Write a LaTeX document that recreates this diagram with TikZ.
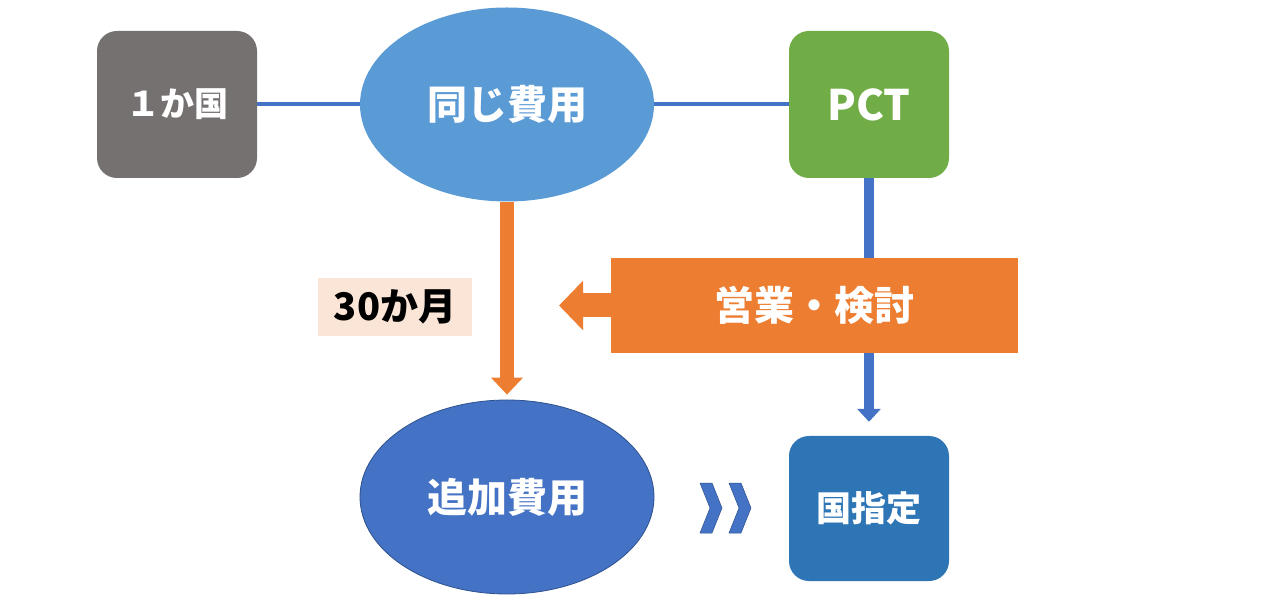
\documentclass[tikz,border=0pt]{standalone}
\usepackage{fontspec}
\setmainfont{Noto Sans CJK JP}
\usetikzlibrary{shapes.geometric,arrows.meta}
\definecolor{cgray}{HTML}{767171}
\definecolor{clight}{HTML}{5B9BD5}
\definecolor{cgreen}{HTML}{70AD47}
\definecolor{corange}{HTML}{ED7D31}
\definecolor{cblue}{HTML}{4472C4}
\definecolor{cdblue}{HTML}{2E75B6}
\definecolor{cpeach}{HTML}{FBE5D6}
\definecolor{cedge}{HTML}{2F528F}
\tikzset{
  txt/.style={font=\fontsize{40}{48}\selectfont\bfseries, text=white},
  rbox/.style={txt, rounded corners=20pt, minimum width=160pt, minimum height=147pt, inner sep=0pt},
  oval/.style={txt, ellipse, minimum width=294pt, minimum height=194pt, inner sep=0pt},
  link/.style={draw=cblue, line width=4pt},
}
\begin{document}
\begin{tikzpicture}[x=1pt,y=-1pt]
\useasboundingbox[fill=white] (0,0) rectangle (1264,601);
% nodes
\node[rbox, fill=cgray, font=\fontsize{34}{40}\selectfont\bfseries] (one) at (177,104.5) {１か国};
\node[oval, fill=clight] (same) at (507,104.5) {同じ費用};
\node[rbox, fill=cgreen, font=\fontsize{42}{48}\selectfont\bfseries] (pct) at (869,104.5) {PCT};
\node[rbox, fill=cdblue, minimum height=145pt, font=\fontsize{35}{42}\selectfont\bfseries] (koku) at (869,508.5) {国指定};
\node[oval, fill=cblue, draw=cedge, line width=0.8pt] (add) at (507,497) {追加費用};
\node[fill=cpeach, minimum width=154pt, minimum height=58pt, inner sep=0pt, font=\fontsize{38}{44}\selectfont\bfseries, text=black] (month) at (395,307) {30か月};
% connectors
\draw[link] (one.east) -- (same.west);
\draw[link] (same.east) -- (pct.west);
\draw[cblue, line width=10pt, -{Triangle[length=13pt,width=23pt]}, shorten >=14pt] (pct.south) -- (koku.north);
\draw[corange, line width=14pt, -{Triangle[length=17pt,width=31pt]}, shorten >=5pt] (same.south) -- (add.north);
\node[txt, fill=corange, minimum width=407pt, minimum height=95pt, inner sep=0pt] (eigyo) at (814.5,305.5) {営業・検討};
\coordinate (ltip) at (559,305.5);
\draw[corange, line width=24pt, -{Triangle[length=24pt,width=48pt]}] (eigyo.west) -- (ltip);
% chevrons
\foreach \dx in {0,29}{
  \fill[cblue, draw=cedge, line width=0.5pt, line join=miter] (700+\dx,483) -- (712+\dx,483) -- (722+\dx,508) -- (712+\dx,533) -- (700+\dx,533) -- (710+\dx,508) -- cycle;
}
\end{tikzpicture}
\end{document}
